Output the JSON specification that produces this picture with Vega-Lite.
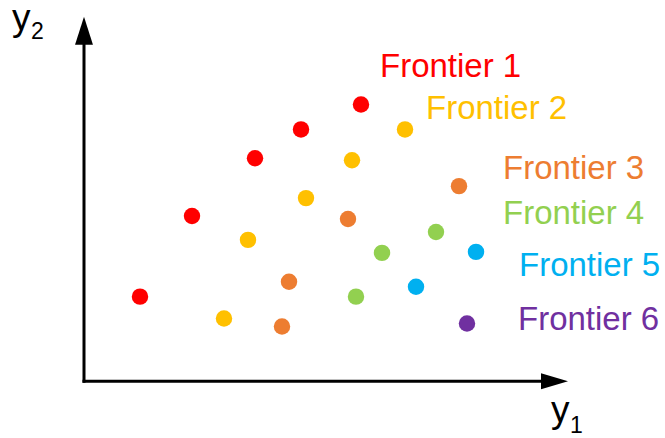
{
  "$schema": "https://vega.github.io/schema/vega-lite/v6.json",
  "width": 665,
  "height": 438,
  "autosize": {"type": "fit", "contains": "padding"},
  "padding": 0,
  "background": "white",
  "config": {"view": {"stroke": null}},
  "datasets": {
    "points": [
      {"x": 5.6, "y": 8.5, "frontier": "Frontier 1"},
      {"x": 10.8, "y": 16.6, "frontier": "Frontier 1"},
      {"x": 17.1, "y": 22.4, "frontier": "Frontier 1"},
      {"x": 21.7, "y": 25.3, "frontier": "Frontier 1"},
      {"x": 27.7, "y": 27.8, "frontier": "Frontier 1"},
      {"x": 14.0, "y": 6.3, "frontier": "Frontier 2"},
      {"x": 16.4, "y": 14.2, "frontier": "Frontier 2"},
      {"x": 22.2, "y": 18.4, "frontier": "Frontier 2"},
      {"x": 26.8, "y": 22.2, "frontier": "Frontier 2"},
      {"x": 32.1, "y": 25.3, "frontier": "Frontier 2"},
      {"x": 19.8, "y": 5.5, "frontier": "Frontier 3"},
      {"x": 20.5, "y": 10.0, "frontier": "Frontier 3"},
      {"x": 26.4, "y": 16.3, "frontier": "Frontier 3"},
      {"x": 37.5, "y": 19.6, "frontier": "Frontier 3"},
      {"x": 27.2, "y": 8.5, "frontier": "Frontier 4"},
      {"x": 29.8, "y": 12.9, "frontier": "Frontier 4"},
      {"x": 35.2, "y": 15.0, "frontier": "Frontier 4"},
      {"x": 33.2, "y": 9.5, "frontier": "Frontier 5"},
      {"x": 39.2, "y": 13.0, "frontier": "Frontier 5"},
      {"x": 38.3, "y": 5.8, "frontier": "Frontier 6"}
    ],
    "labels": [
      {"x": 29.6, "y": 30.6, "frontier": "Frontier 1"},
      {"x": 34.2, "y": 26.3, "frontier": "Frontier 2"},
      {"x": 41.9, "y": 20.3, "frontier": "Frontier 3"},
      {"x": 41.9, "y": 15.8, "frontier": "Frontier 4"},
      {"x": 43.5, "y": 10.6, "frontier": "Frontier 5"},
      {"x": 43.4, "y": 5.1, "frontier": "Frontier 6"}
    ],
    "axes": [
      {"x": 0, "y": 0, "x2": 0, "y2": 34.4},
      {"x": 0, "y": 0, "x2": 45.9, "y2": 0}
    ],
    "arrowUp": [{"x": 0, "y": 35.2}],
    "arrowRight": [{"x": 47.05, "y": 0}],
    "axisMain": [
      {"x": -7.2, "y": 35.3, "t": "y"},
      {"x": 46.7, "y": -4.1, "t": "y"}
    ],
    "axisSub": [
      {"x": -5.3, "y": 34.4, "t": "2"},
      {"x": 48.6, "y": -5.2, "t": "1"}
    ]
  },
  "encoding": {
    "x": {"field": "x", "type": "quantitative", "scale": {"domain": [-8.4, 58.1], "nice": false, "zero": false}, "axis": null},
    "y": {"field": "y", "type": "quantitative", "scale": {"domain": [-5.7, 38.1], "nice": false, "zero": false}, "axis": null}
  },
  "layer": [
    {
      "data": {"name": "axes"},
      "mark": {"type": "rule", "color": "black", "strokeWidth": 3, "strokeCap": "square"},
      "encoding": {
        "x2": {"field": "x2"},
        "y2": {"field": "y2"}
      }
    },
    {
      "data": {"name": "arrowUp"},
      "mark": {"type": "point", "shape": "M0,-1L0.64,1L-0.64,1Z", "filled": true, "color": "black", "opacity": 1, "size": 784, "strokeWidth": 0}
    },
    {
      "data": {"name": "arrowRight"},
      "mark": {"type": "point", "shape": "M1,0L-1,-0.6L-1,0.6Z", "filled": true, "color": "black", "opacity": 1, "size": 729, "strokeWidth": 0}
    },
    {
      "data": {"name": "points"},
      "mark": {"type": "circle", "size": 270, "opacity": 1},
      "encoding": {
        "color": {
          "field": "frontier", "type": "nominal", "legend": null,
          "scale": {"domain": ["Frontier 1", "Frontier 2", "Frontier 3", "Frontier 4", "Frontier 5", "Frontier 6"],
                    "range": ["#FF0000", "#FFC000", "#ED7D31", "#92D050", "#00B0F0", "#7030A0"]}
        }
      }
    },
    {
      "data": {"name": "labels"},
      "mark": {"type": "text", "font": "Liberation Sans", "fontSize": 33, "align": "left", "baseline": "alphabetic"},
      "encoding": {
        "text": {"field": "frontier"},
        "color": {"field": "frontier", "type": "nominal", "legend": null}
      }
    },
    {
      "data": {"name": "axisMain"},
      "mark": {"type": "text", "font": "Liberation Sans", "fontSize": 37, "align": "left", "baseline": "alphabetic", "color": "black"},
      "encoding": {"text": {"field": "t"}}
    },
    {
      "data": {"name": "axisSub"},
      "mark": {"type": "text", "font": "Liberation Sans", "fontSize": 23, "align": "left", "baseline": "alphabetic", "color": "black"},
      "encoding": {"text": {"field": "t"}}
    }
  ]
}
